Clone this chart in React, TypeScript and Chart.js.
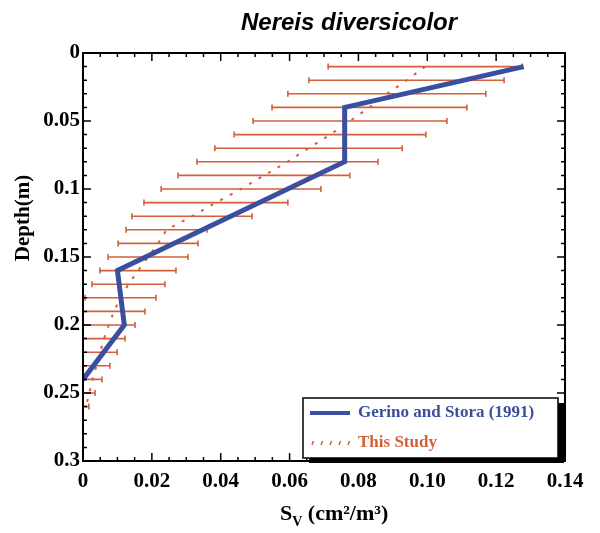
import React, { useEffect, useRef } from "react";
import { Chart, registerables } from "chart.js";

Chart.register(...registerables);

// ---- data ----
const titleText = "Nereis diversicolor";
const yAxisTitle = "Depth(m)";
const legendLabels = ["Gerino and Stora (1991)", "This Study"];

// Gerino and Stora (1991) profile
const gerinoSv = [0.128, 0.076, 0.076, 0.01, 0.012, 0];
const gerinoDepth = [0.01, 0.04, 0.08, 0.16, 0.2, 0.24];

// This study: depth, mean, and error-bar ends
const studyDepth = [
  0.01, 0.02, 0.03, 0.04, 0.05, 0.06, 0.07, 0.08, 0.09, 0.1, 0.11, 0.12, 0.13,
  0.14, 0.15, 0.16, 0.17, 0.18, 0.19, 0.2, 0.21, 0.22, 0.23, 0.24, 0.25, 0.26,
];
const studyMean = [
  0.0994, 0.094, 0.0883, 0.0832, 0.0776, 0.0718, 0.0655, 0.0594, 0.0526, 0.0459,
  0.0386, 0.0317, 0.0243, 0.0218, 0.0189, 0.016, 0.0132, 0.0109, 0.009, 0.0075,
  0.0061, 0.005, 0.0039, 0.0028, 0.0018, 0.0009,
];
const studyLow = [
  0.0712, 0.0656, 0.0595, 0.0549, 0.0494, 0.0439, 0.0383, 0.0331, 0.0276, 0.0227,
  0.0177, 0.0142, 0.0125, 0.0102, 0.0073, 0.0049, 0.0026, 0.0006, 0, 0,
  0, 0, 0, 0, 0, 0,
];
const studyHigh = [
  0.1275, 0.1223, 0.117, 0.1115, 0.1057, 0.0996, 0.0927, 0.0857, 0.0775, 0.0691,
  0.0595, 0.0491, 0.036, 0.0334, 0.0305, 0.027, 0.0238, 0.0212, 0.018, 0.0151,
  0.0122, 0.0099, 0.0078, 0.0055, 0.0035, 0.0017,
];

const xTicks = [0, 0.02, 0.04, 0.06, 0.08, 0.1, 0.12, 0.14];
const xTickLabels = ["0", "0.02", "0.04", "0.06", "0.08", "0.10", "0.12", "0.14"];
const yTicks = [0, 0.05, 0.1, 0.15, 0.2, 0.25, 0.3];
const yTickLabels = ["0", "0.05", "0.1", "0.15", "0.2", "0.25", "0.3"];

// ---- styles ----
const BLUE = "#3a4f9f";
const ORANGE = "#d2603a";
const SERIF = "'Liberation Serif', 'Times New Roman', serif";
const SANS = "'Liberation Sans', Arial, sans-serif";

const decorPlugin = {
  id: "decor",
  beforeDatasetsDraw(chart: any) {
    const { ctx, chartArea: a, scales } = chart;
    const x = scales.x;
    const y = scales.y;
    ctx.save();
    ctx.beginPath();
    ctx.rect(a.left, a.top, a.right - a.left, a.bottom - a.top);
    ctx.clip();
    ctx.strokeStyle = ORANGE;
    ctx.lineWidth = 1.6;
    studyDepth.forEach((d, i) => {
      const py = y.getPixelForValue(d);
      const xl = x.getPixelForValue(studyLow[i]);
      const xh = x.getPixelForValue(studyHigh[i]);
      ctx.beginPath();
      ctx.moveTo(xl, py);
      ctx.lineTo(xh, py);
      ctx.moveTo(xl, py - 3);
      ctx.lineTo(xl, py + 3);
      ctx.moveTo(xh, py - 3);
      ctx.lineTo(xh, py + 3);
      ctx.stroke();
    });
    ctx.restore();
  },
  afterDraw(chart: any) {
    const { ctx, chartArea: a, scales } = chart;
    const x = scales.x;
    const y = scales.y;
    ctx.save();
    // frame
    ctx.strokeStyle = "#000";
    ctx.lineWidth = 2;
    ctx.strokeRect(a.left, a.top, a.right - a.left, a.bottom - a.top);
    // ticks (inward, all sides)
    ctx.lineWidth = 1.5;
    ctx.beginPath();
    for (let k = 0; k <= 28; k++) {
      const px = x.getPixelForValue(k * 0.005);
      const len = k % 4 === 0 ? 8 : 4;
      ctx.moveTo(px, a.bottom);
      ctx.lineTo(px, a.bottom - len);
      ctx.moveTo(px, a.top);
      ctx.lineTo(px, a.top + len);
    }
    for (let k = 0; k <= 30; k++) {
      const py = y.getPixelForValue(k * 0.01);
      const len = k % 5 === 0 ? 8 : 4;
      ctx.moveTo(a.left, py);
      ctx.lineTo(a.left + len, py);
      ctx.moveTo(a.right, py);
      ctx.lineTo(a.right - len, py);
    }
    ctx.stroke();

    // title
    ctx.fillStyle = "#000";
    ctx.font = `italic bold 24px ${SANS}`;
    ctx.textAlign = "center";
    ctx.textBaseline = "alphabetic";
    ctx.fillText(titleText, 349, 30);

    // y axis title
    ctx.save();
    ctx.translate(24, 218);
    ctx.rotate(-Math.PI / 2);
    ctx.font = `bold 21px ${SERIF}`;
    ctx.textAlign = "center";
    ctx.textBaseline = "middle";
    ctx.fillText(yAxisTitle, 0, 0);
    ctx.restore();

    // x axis title: S_V (cm²/m³)
    ctx.textAlign = "left";
    ctx.textBaseline = "alphabetic";
    const bx = 280;
    const by = 520;
    ctx.font = `bold 22px ${SERIF}`;
    ctx.fillText("S", bx, by);
    const wS = ctx.measureText("S").width;
    ctx.font = `bold 14px ${SERIF}`;
    ctx.fillText("V", bx + wS, by + 6);
    const wV = ctx.measureText("V").width;
    ctx.font = `bold 22px ${SERIF}`;
    ctx.fillText(" (cm²/m³)", bx + wS + wV, by);

    // legend
    const lx = 303;
    const ly = 398;
    const lw = 255;
    const lh = 60;
    ctx.fillStyle = "#000";
    ctx.fillRect(lx + 6, ly + 5, lw, lh);
    ctx.fillStyle = "#fff";
    ctx.fillRect(lx, ly, lw, lh);
    ctx.strokeStyle = "#000";
    ctx.lineWidth = 1.5;
    ctx.strokeRect(lx, ly, lw, lh);

    ctx.strokeStyle = BLUE;
    ctx.lineWidth = 4;
    ctx.beginPath();
    ctx.moveTo(310, 413);
    ctx.lineTo(350, 413);
    ctx.stroke();

    ctx.strokeStyle = ORANGE;
    ctx.lineWidth = 1.5;
    ctx.beginPath();
    for (let i = 0; i < 5; i++) {
      const sx = 312 + i * 9;
      ctx.moveTo(sx, 445);
      ctx.lineTo(sx + 1.5, 441);
    }
    ctx.stroke();

    ctx.font = `bold 17px ${SERIF}`;
    ctx.textBaseline = "middle";
    ctx.textAlign = "left";
    ctx.fillStyle = BLUE;
    ctx.fillText(legendLabels[0], 358, 413);
    ctx.fillStyle = ORANGE;
    ctx.fillText(legendLabels[1], 358, 443);
    ctx.restore();
  },
};

export default function App() {
  const ref = useRef<HTMLCanvasElement | null>(null);
  useEffect(() => {
    document.body.style.margin = "0";
    const canvas = ref.current;
    if (!canvas) return;
    const tickFont = { family: SERIF, weight: "bold" as const, size: 21 };
    const chart = new Chart(canvas, {
      type: "scatter",
      data: {
        datasets: [
          {
            label: legendLabels[0],
            data: gerinoSv.map((v, i) => ({ x: v, y: gerinoDepth[i] })),
            showLine: true,
            borderColor: BLUE,
            backgroundColor: BLUE,
            borderWidth: 5,
            pointRadius: 0,
            order: 0,
          },
          {
            label: legendLabels[1],
            data: studyMean.map((v, i) => ({ x: v, y: studyDepth[i] })),
            showLine: true,
            borderColor: ORANGE,
            backgroundColor: ORANGE,
            borderWidth: 2,
            borderDash: [3, 8],
            pointRadius: 0,
            order: 1,
          },
        ],
      },
      options: {
        animation: false,
        responsive: false,
        devicePixelRatio: 1,
        layout: { padding: { top: 53, right: 35, left: 0, bottom: 0 } },
        plugins: {
          legend: { display: false },
          title: { display: false },
          tooltip: { enabled: false },
        },
        scales: {
          x: {
            type: "linear",
            min: 0,
            max: 0.14,
            grid: { display: false, drawTicks: false },
            border: { display: false },
            afterBuildTicks: (s: any) => {
              s.ticks = xTicks.map((v) => ({ value: v }));
            },
            afterFit: (s: any) => {
              s.height = 72;
            },
            ticks: {
              autoSkip: false,
              maxRotation: 0,
              padding: 8,
              color: "#000",
              font: tickFont,
              callback: (_v: any, i: number) => xTickLabels[i],
            },
          },
          y: {
            type: "linear",
            reverse: true,
            min: 0,
            max: 0.3,
            grid: { display: false, drawTicks: false },
            border: { display: false },
            afterBuildTicks: (s: any) => {
              s.ticks = yTicks.map((v) => ({ value: v }));
            },
            afterFit: (s: any) => {
              s.width = 83;
            },
            ticks: {
              autoSkip: false,
              padding: 3,
              color: "#000",
              font: tickFont,
              callback: (_v: any, i: number) => yTickLabels[i],
            },
          },
        },
      },
      plugins: [decorPlugin],
    });
    return () => chart.destroy();
  }, []);
  return <canvas ref={ref} width={600} height={533} style={{ display: "block" }} />;
}
